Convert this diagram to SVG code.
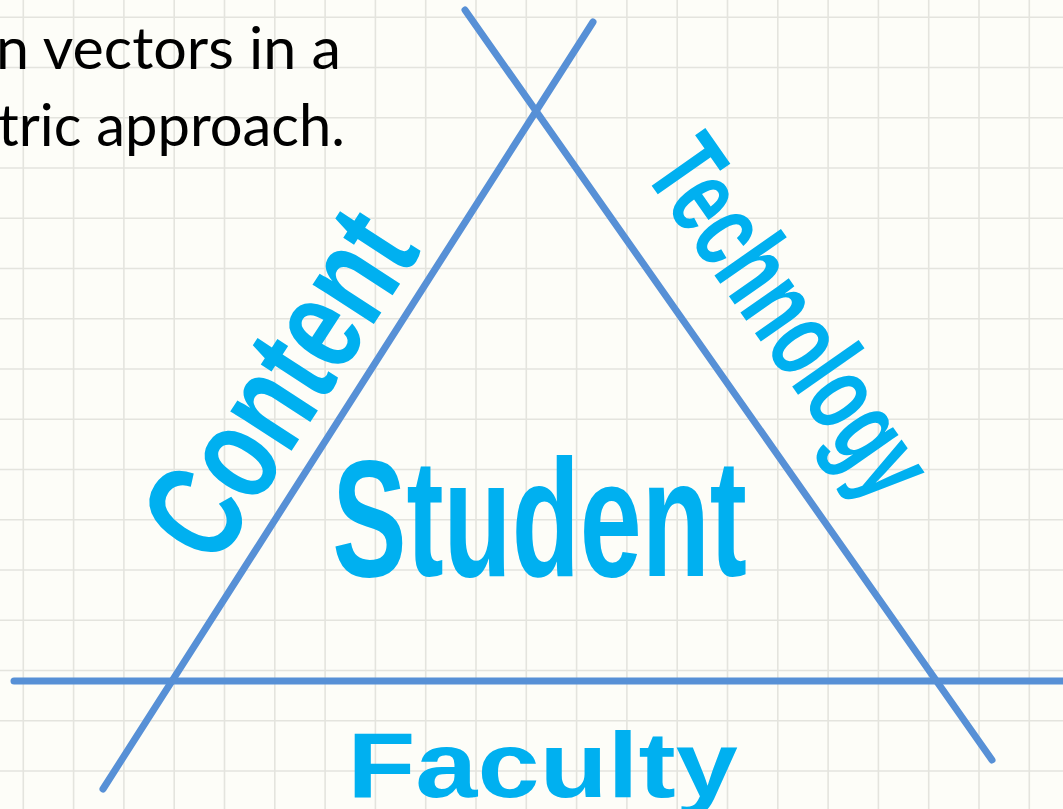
<svg xmlns="http://www.w3.org/2000/svg" width="1063" height="809" viewBox="0 0 1063 809">
  <style>
    .grid { stroke: #e4e4de; stroke-width: 1.6; fill: none; }
    .leg { stroke: #5790d6; stroke-width: 7; stroke-linecap: round; fill: none; }
    .word { font-family: "Liberation Sans", Arial, sans-serif; font-weight: bold; fill: #00b0f0; }
    .body { font-family: Lato, "Open Sans", sans-serif; fill: #000000; font-size: 58px; }
  </style>
  <rect x="0" y="0" width="1063" height="809" fill="#fdfdf8"/>
  <g id="grid">
    <path class="grid" d="M23.3 0V809M73.6 0V809M123.9 0V809M174.2 0V809M224.5 0V809M274.8 0V809M325.1 0V809M375.4 0V809M425.7 0V809M476 0V809M526.3 0V809M576.6 0V809M626.9 0V809M677.2 0V809M727.5 0V809M777.8 0V809M828.1 0V809M878.4 0V809M928.7 0V809M979 0V809M1029.3 0V809"/>
    <path class="grid" d="M0 17.3H1063M0 67.55H1063M0 117.8H1063M0 168.05H1063M0 218.3H1063M0 268.55H1063M0 318.8H1063M0 369.05H1063M0 419.3H1063M0 469.55H1063M0 519.8H1063M0 570.05H1063M0 620.3H1063M0 670.55H1063M0 720.8H1063M0 771.05H1063"/>
  </g>
  <g id="caption">
    <text class="body" x="341" y="69" text-anchor="end" textLength="345" lengthAdjust="spacingAndGlyphs">n vectors in a</text>
    <text class="body" x="345" y="146" text-anchor="end" textLength="347" lengthAdjust="spacingAndGlyphs">tric approach.</text>
  </g>
  <g id="connectors">
    <line class="leg" x1="103" y1="789" x2="593" y2="22"/>
    <line class="leg" x1="465" y1="10" x2="992" y2="760"/>
    <line class="leg" x1="14" y1="681" x2="1070" y2="681"/>
  </g>
  <g id="content">
    <text class="word" font-size="138" text-anchor="middle" transform="translate(318.3,409.9) rotate(-57) scale(0.73,1)">Content</text>
  </g>
  <g id="technology">
    <text class="word" font-size="112" text-anchor="middle" transform="translate(759,339) rotate(55) scale(0.66,1)">Technology</text>
  </g>
  <g id="student">
    <text class="word" font-size="167" text-anchor="middle" transform="translate(539.5,576) scale(0.667,1)">Student</text>
  </g>
  <g id="faculty">
    <text class="word" font-size="93" text-anchor="middle" transform="translate(542.5,797) scale(1.2,1)">Faculty</text>
  </g>
</svg>
